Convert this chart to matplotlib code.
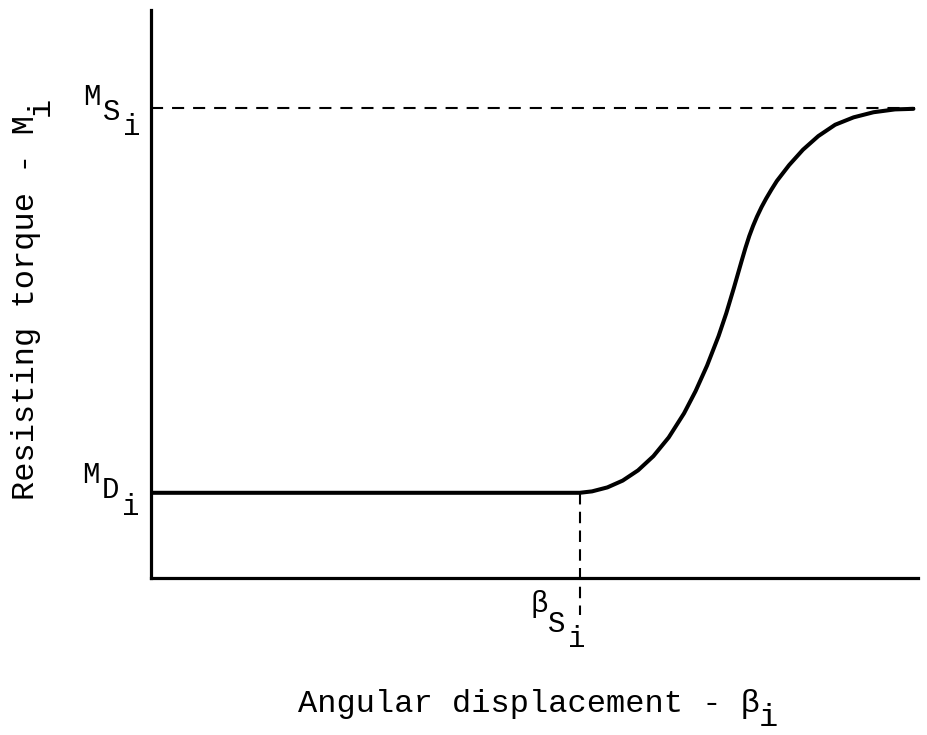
import matplotlib
matplotlib.use('Agg')
import matplotlib.pyplot as plt

# (x: 0..100 along axis, y: 0..100 up the axis)
beta = [0, 55.9, 57.5, 59.5, 61.5, 63.5, 65.5, 67.5, 69.5, 71.0, 72.5, 74.0, 75.0,
        76.0, 77.0, 77.5, 78.0, 78.5, 79.0, 79.6, 80.2, 80.9, 81.6, 83.2, 85.0, 87.0,
        89.2, 91.6, 94.2, 97.0, 99.4]
torque = [15.0, 15.0, 15.25, 15.95, 17.15, 18.95, 21.45, 24.75, 29.0, 32.9, 37.4, 42.6, 46.6,
          51.1, 55.8, 58.1, 60.2, 62.0, 63.6, 65.3, 66.8, 68.4, 69.9, 72.7, 75.4, 77.8,
          79.8, 81.1, 82.0, 82.5, 82.6]
M_D = 15.0
M_S = 82.7
beta_S = 55.9

FONT = ['Liberation Mono', 'DejaVu Sans Mono']
W, H = 928, 735

fig = plt.figure(figsize=(W / 100, H / 100), dpi=100)
ax = fig.add_axes([151 / W, 1 - 578 / H, (918 - 151) / W, (578 - 10) / H])
ax.set_xlim(0, 100)
ax.set_ylim(0, 100)
for s in ['top', 'right']:
    ax.spines[s].set_visible(False)
for s in ['left', 'bottom']:
    ax.spines[s].set_linewidth(2.3)
ax.set_xticks([])
ax.set_yticks([])

ax.plot(beta, torque, color='black', lw=2.9, solid_joinstyle='round', solid_capstyle='round')
ax.plot([0, 99.6], [M_S, M_S], color='black', lw=1.5, linestyle=(0, (5.8, 4.3)))
ax.plot([beta_S, beta_S], [M_D, -6.5], color='black', lw=1.5,
        linestyle=(0, (5.5, 3.5)), clip_on=False)


def piece(txt, xy, dx, dy, coords, size=21):
    ax.annotate(txt, xy=xy, xycoords=coords, xytext=(dx, dy), textcoords='offset pixels',
                ha='left', va='baseline', fontsize=size, family=FONT, annotation_clip=False)


# M_S_i and M_D_i at the left of the axis
ax_y = ('axes fraction', 'data')
piece('M', (0, M_S), -68, 3, ax_y)
piece('S', (0, M_S), -48, -12, ax_y)
piece('i', (0, M_S), -28, -27, ax_y)
piece('M', (0, M_D), -69, 10, ax_y)
piece('D', (0, M_D), -49, -5, ax_y)
piece('i', (0, M_D), -29, -22, ax_y)

# beta_S_i under the axis
piece('β', (beta_S, 0), -49, -34, 'data')
piece('S', (beta_S, 0), -32, -54, 'data')
piece('i', (beta_S, 0), -12, -69, 'data')

# axis titles
fig.text(298 / W, 1 - 712 / H, 'Angular displacement - β', fontsize=23, family=FONT,
         ha='left', va='baseline')
fig.text(759 / W, 1 - 726 / H, 'i', fontsize=23, family=FONT, ha='left', va='baseline')
fig.text(34 / W, 1 - 500 / H, 'Resisting torque - M', fontsize=23, family=FONT,
         rotation=90, rotation_mode='anchor', ha='left', va='baseline')
fig.text(49 / W, 1 - 116 / H, 'i', fontsize=23, family=FONT,
         rotation=90, rotation_mode='anchor', ha='left', va='baseline')

fig.savefig('out.png', dpi=100)
